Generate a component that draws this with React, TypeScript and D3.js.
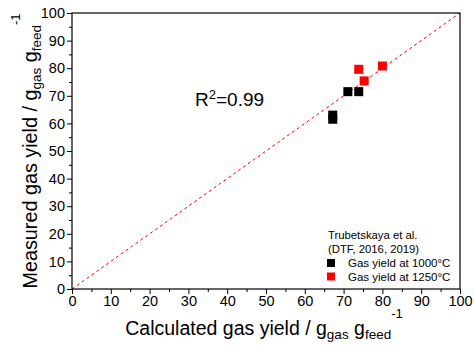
import React, { useRef, useEffect } from "react";
import * as d3 from "d3";

const calc1000 = [67.2, 67.2, 71.1, 73.9];
const meas1000 = [61.5, 63.0, 71.5, 71.5];
const calc1250 = [73.9, 75.3, 80.0];
const meas1250 = [79.6, 75.4, 80.8];
const ticks = [0, 10, 20, 30, 40, 50, 60, 70, 80, 90, 100];
const legendTitle = ["Trubetskaya et al.", "(DTF, 2016, 2019)"];
const legendItems = ["Gas yield at 1000°C", "Gas yield at 1250°C"];
const legendColors = ["#000000", "#ff0000"];

const W = 474;
const H = 345;
const left = 72, right = 460, top = 13, bottom = 289;
const font = "Liberation Sans, Arial, sans-serif";

export default function App() {
  const svgRef = useRef<SVGSVGElement>(null);

  useEffect(() => {
    const svg = d3.select(svgRef.current);
    svg.selectAll("*").remove();

    const x = d3.scaleLinear().domain([0, 100]).range([left, right]);
    const y = d3.scaleLinear().domain([0, 100]).range([bottom, top]);
    const minor = d3.range(5, 100, 10);

    // diagonal
    svg
      .append("line")
      .attr("x1", x(0))
      .attr("y1", y(0))
      .attr("x2", x(100))
      .attr("y2", y(100))
      .attr("stroke", "#ff0000")
      .attr("stroke-width", 1)
      .attr("stroke-dasharray", "3,3");

    // points
    const sq = 9;
    const drawPts = (xs: number[], ys: number[], color: string) => {
      svg
        .append("g")
        .selectAll("rect")
        .data(xs.map((d, i) => [d, ys[i]]))
        .join("rect")
        .attr("x", (d) => x(d[0]) - sq / 2)
        .attr("y", (d) => y(d[1]) - sq / 2)
        .attr("width", sq)
        .attr("height", sq)
        .attr("fill", color);
    };
    drawPts(calc1000, meas1000, legendColors[0]);
    drawPts(calc1250, meas1250, legendColors[1]);

    // frame
    svg
      .append("rect")
      .attr("x", left)
      .attr("y", top)
      .attr("width", right - left)
      .attr("height", bottom - top)
      .attr("fill", "none")
      .attr("stroke", "#000")
      .attr("stroke-width", 1.2);

    // x axis
    const xa = svg
      .append("g")
      .attr("transform", `translate(0,${bottom})`)
      .call(d3.axisBottom(x).tickValues(ticks).tickSize(5).tickPadding(2).tickFormat(d3.format("d")));
    xa.select(".domain").remove();
    xa.selectAll("text").attr("font-size", 14.5).attr("font-family", font).attr("fill", "#000");
    svg
      .append("g")
      .attr("transform", `translate(0,${bottom})`)
      .call(d3.axisBottom(x).tickValues(minor).tickSize(3).tickFormat(() => ""))
      .select(".domain")
      .remove();

    // y axis
    const ya = svg
      .append("g")
      .attr("transform", `translate(${left},0)`)
      .call(d3.axisLeft(y).tickValues(ticks).tickSize(5).tickPadding(2).tickFormat(d3.format("d")));
    ya.select(".domain").remove();
    ya.selectAll("text").attr("font-size", 14.5).attr("font-family", font).attr("fill", "#000");
    svg
      .append("g")
      .attr("transform", `translate(${left},0)`)
      .call(d3.axisLeft(y).tickValues(minor).tickSize(3).tickFormat(() => ""))
      .select(".domain")
      .remove();

    svg.selectAll(".tick line").attr("stroke", "#000").attr("stroke-width", 1);

    // axis titles
    const addLabel = (sel: any, main: string) => {
      sel.append("tspan").text(main);
      sel.append("tspan").attr("font-size", 13.5).attr("dy", 4).text("gas");
      sel.append("tspan").attr("dy", -4).text(" g");
      sel.append("tspan").attr("font-size", 13.5).attr("dy", 4).text("feed");
      sel.append("tspan").attr("font-size", 13).attr("dy", -21).text("-1");
    };
    const xt = svg
      .append("text")
      .attr("x", 264)
      .attr("y", 335)
      .attr("text-anchor", "middle")
      .attr("font-size", 19.5)
      .attr("font-family", font);
    addLabel(xt, "Calculated gas yield / g");

    const yt = svg
      .append("text")
      .attr("transform", `translate(37,${(top + bottom) / 2}) rotate(-90)`)
      .attr("text-anchor", "middle")
      .attr("font-size", 19.8)
      .attr("font-family", font);
    addLabel(yt, "Measured gas yield / g");

    // R2
    const r = svg
      .append("text")
      .attr("x", 195)
      .attr("y", 106)
      .attr("font-size", 19)
      .attr("font-family", font);
    r.append("tspan").text("R");
    r.append("tspan").attr("font-size", 13).attr("dy", -7).text("2");
    r.append("tspan").attr("dy", 7).text("=0.99");

    // legend
    legendTitle.forEach((t, i) => {
      svg
        .append("text")
        .attr("x", 328)
        .attr("y", 239 + i * 14)
        .attr("font-size", 11.3)
        .attr("font-family", font)
        .text(t);
    });
    legendItems.forEach((t, i) => {
      svg
        .append("rect")
        .attr("x", 327)
        .attr("y", 259 + i * 13.5)
        .attr("width", 8)
        .attr("height", 8)
        .attr("fill", legendColors[i]);
      svg
        .append("text")
        .attr("x", 348)
        .attr("y", 267 + i * 13.5)
        .attr("font-size", 11.5)
        .attr("font-family", font)
        .text(t);
    });
  }, []);

  return (
    <div style={{ position: "absolute", left: 0, top: 0 }}>
      <svg ref={svgRef} width={W} height={H} style={{ display: "block", background: "#fff" }}></svg>
    </div>
  );
}
